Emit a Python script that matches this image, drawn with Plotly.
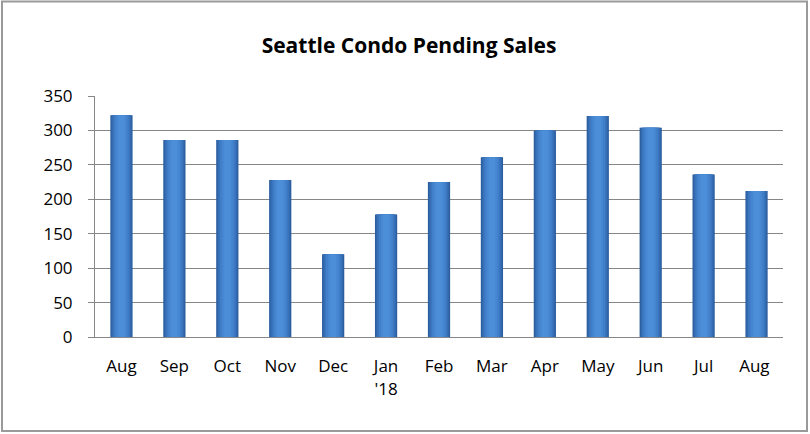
import plotly.graph_objects as go

months = ["Aug", "Sep", "Oct", "Nov", "Dec", "Jan<br>'18", "Feb", "Mar", "Apr", "May", "Jun", "Jul", "Aug "]
pending_sales = [322, 286, 286, 228, 120, 178, 225, 261, 300, 321, 304, 236, 212]
y_ticks = [0, 50, 100, 150, 200, 250, 300, 350]

# cylinder-like shading: layered bars from dark edge to light centre
layers = [
    (0.42, "#2c5e9e"),
    (0.38, "#3368ad"),
    (0.33, "#3a74bd"),
    (0.27, "#417fc9"),
    (0.20, "#4787d2"),
    (0.12, "#4d8ed9"),
]

fig = go.Figure()
for w, c in layers:
    fig.add_trace(go.Bar(
        x=months, y=pending_sales, width=w,
        marker=dict(color=c, line=dict(width=0)),
        hoverinfo="skip", showlegend=False,
    ))

fig.update_layout(
    width=810, height=434,
    margin=dict(l=95, r=27, t=96, b=97),
    paper_bgcolor="white", plot_bgcolor="white",
    barmode="overlay",
    title=dict(text="<b>Seattle Condo Pending Sales</b>", x=0.505, xanchor="center",
               y=0.895, yanchor="middle",
               font=dict(family="Open Sans", size=21, color="black")),
    font=dict(family="Open Sans", size=17, color="black"),
    xaxis=dict(showgrid=False, showline=True, linecolor="#868686", linewidth=1,
               ticks="", tickfont=dict(size=17), fixedrange=True,
               ticklabelstandoff=14),
    yaxis=dict(range=[0, 350], tickvals=y_ticks, showgrid=True, gridcolor="#868686",
               gridwidth=1, showline=True, linecolor="#868686", linewidth=1,
               ticks="outside", ticklen=6, tickcolor="#868686", zeroline=False,
               tickfont=dict(size=17), ticklabelstandoff=12),
    shapes=[dict(type="rect", xref="paper", yref="paper",
                 x0=(2 - 95) / 688, x1=(807 - 95) / 688,
                 y0=(337 - 431) / 241, y1=(337 - 1.5) / 241,
                 line=dict(color="#9a9a9a", width=2), layer="below")],
)

fig.write_html("out.html")
